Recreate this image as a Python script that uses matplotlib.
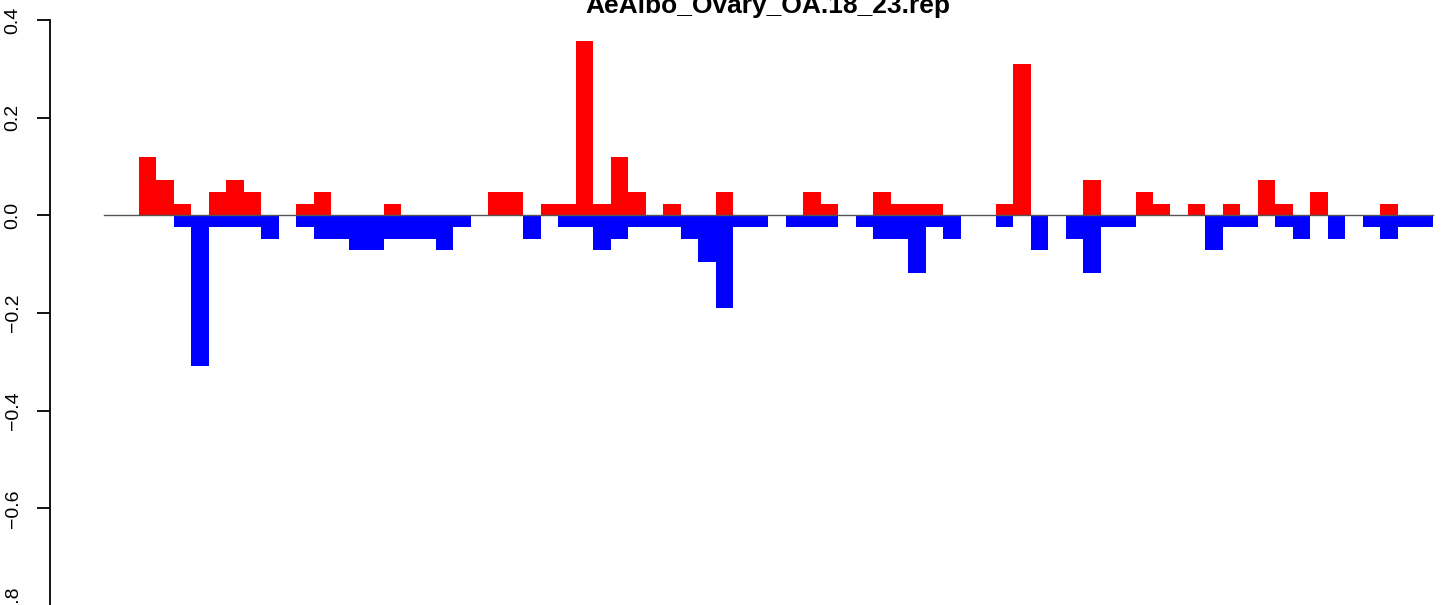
import matplotlib
matplotlib.use("Agg")
import matplotlib.pyplot as plt

plt.rcParams['font.family'] = ['Liberation Sans', 'DejaVu Sans']

title = "AeAlbo_Ovary_OA.18_23.rep"

# bar values per slot (76 contiguous slots)
up_values = [0, 0, 0.119, 0.0714, 0.0238, 0, 0.0476, 0.0714, 0.0476, 0,
             0, 0.0238, 0.0476, 0, 0, 0, 0.0238, 0, 0, 0,
             0, 0, 0.0476, 0.0476, 0, 0.0238, 0.0238, 0.3571, 0.0238, 0.119,
             0.0476, 0, 0.0238, 0, 0, 0.0476, 0, 0, 0, 0,
             0.0476, 0.0238, 0, 0, 0.0476, 0.0238, 0.0238, 0.0238, 0, 0,
             0, 0.0238, 0.3095, 0, 0, 0, 0.0714, 0, 0, 0.0476,
             0.0238, 0, 0.0238, 0, 0.0238, 0, 0.0714, 0.0238, 0, 0.0476,
             0, 0, 0, 0.0238, 0, 0]
down_values = [0, 0, 0, 0, -0.0238, -0.3095, -0.0238, -0.0238, -0.0238, -0.0476,
               0, -0.0238, -0.0476, -0.0476, -0.0714, -0.0714, -0.0476, -0.0476, -0.0476, -0.0714,
               -0.0238, 0, 0, 0, -0.0476, 0, -0.0238, -0.0238, -0.0714, -0.0476,
               -0.0238, -0.0238, -0.0238, -0.0476, -0.0952, -0.1905, -0.0238, -0.0238, 0, -0.0238,
               -0.0238, -0.0238, 0, -0.0238, -0.0476, -0.0476, -0.119, -0.0238, -0.0476, 0,
               0, -0.0238, 0, -0.0714, 0, -0.0476, -0.119, -0.0238, -0.0238, 0,
               0, 0, 0, -0.0714, -0.0238, -0.0238, 0, -0.0238, -0.0476, 0,
               -0.0476, 0, -0.0238, -0.0476, -0.0238, -0.0238]
y_ticks = [-0.8, -0.6, -0.4, -0.2, 0.0, 0.2, 0.4]
y_tick_labels = ["\u22120.8", "\u22120.6", "\u22120.4", "\u22120.2", "0.0", "0.2", "0.4"]

W, H = 1441, 605
fig = plt.figure(figsize=(W / 100, H / 100), dpi=100)

ax_left_px = 50
ax_right_px = 1441
ax_top_px = 20
ax_bot_px = 606
ax = fig.add_axes([ax_left_px / W, 1 - ax_bot_px / H,
                   (ax_right_px - ax_left_px) / W, (ax_bot_px - ax_top_px) / H])

n = len(up_values)
slot_px = (1432.8 - 103.7) / n
x0 = -(103.7 - ax_left_px) / slot_px
x1 = n + (ax_right_px - 1432.8) / slot_px
ax.set_xlim(x0, x1)
ax.set_ylim(-0.8, 0.4)

xs = [i + 0.5 for i in range(n)]
ax.bar(xs, up_values, width=1.0, color="#FF0000", linewidth=0)
ax.bar(xs, down_values, width=1.0, color="#0000FF", linewidth=0)
ax.plot([0, n], [0, 0], color="#555555", linewidth=1.0, zorder=3)

for s in ["top", "right", "bottom"]:
    ax.spines[s].set_visible(False)
ax.spines["left"].set_linewidth(1.3)
ax.set_xticks([])
ax.set_yticks(y_ticks)
ax.set_yticklabels(y_tick_labels, rotation=90, va="center", fontsize=14)
ax.tick_params(axis="y", length=9.5, width=1.3, pad=11)

fig.text(768 / W, 1 - 13.5 / H, title, ha="center", va="baseline",
         fontsize=19, fontweight="bold")

fig.savefig("out.png", dpi=100)
